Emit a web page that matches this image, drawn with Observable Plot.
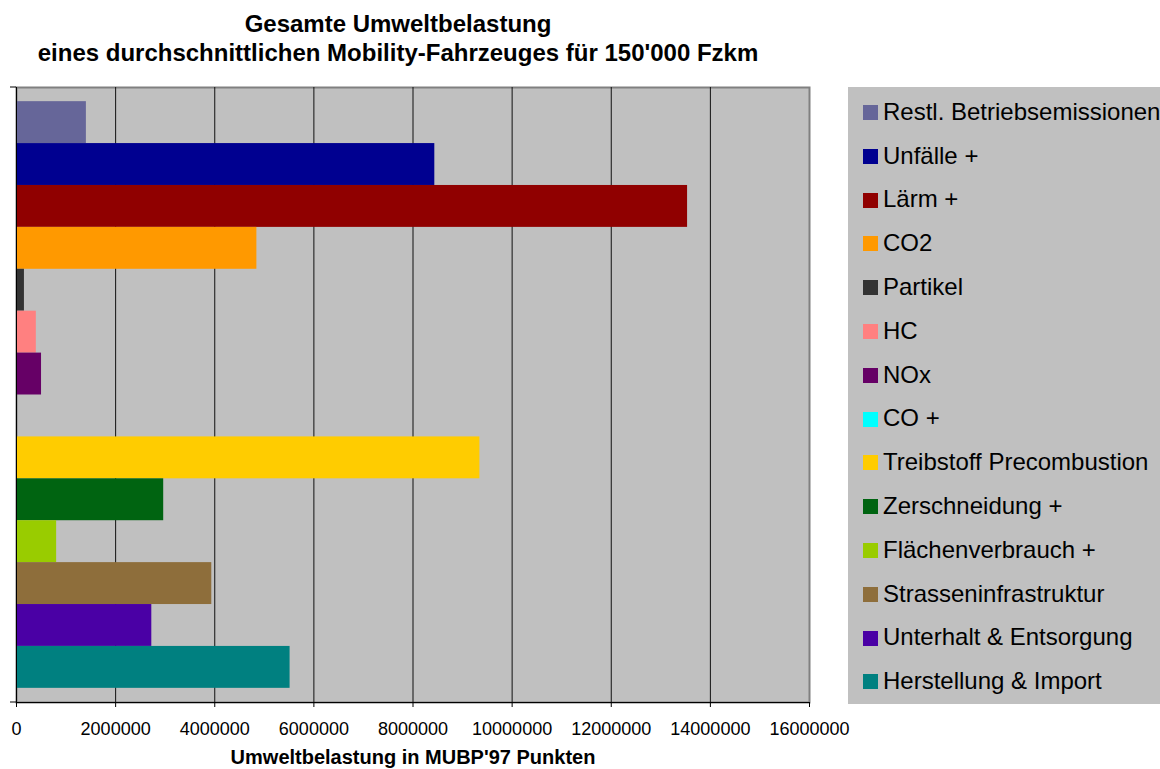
<!DOCTYPE html>
<html>
<head>
<meta charset="utf-8">
<script src="https://cdn.jsdelivr.net/npm/d3@7"></script>
<script src="https://cdn.jsdelivr.net/npm/@observablehq/plot@0.6"></script>
<style>
  body { margin: 0; background: #fff; font-family: "Liberation Sans", Arial, sans-serif; }
  #wrap { position: relative; width: 1160px; height: 769px; overflow: hidden; }
  #chart { position: absolute; left: 0; top: 0; }
  #title { position: absolute; left: 0; top: 9px; width: 796px; text-align: center;
           font-weight: bold; font-size: 24px; line-height: 29px; color: #000; }
  #legend { position: absolute; left: 848px; top: 87px; width: 312px; height: 617px; background: #c0c0c0; }
  .item { position: absolute; left: 15px; height: 24px; font-size: 24px; line-height: 24px; white-space: nowrap; color: #000; }
  .sw { position: absolute; left: 0; width: 15px; height: 15px; }
  .lb { position: absolute; left: 20px; top: 0; }
</style>
</head>
<body>
<div id="wrap">
  <div id="chart"></div>
  <div id="title"></div>
  <div id="legend"></div>
</div>
<script>
const titleLines = ["Gesamte Umweltbelastung", "eines durchschnittlichen Mobility-Fahrzeuges für 150'000 Fzkm"];
const xLabel = "Umweltbelastung in MUBP'97 Punkten";

const categories = [
  "Restl. Betriebsemissionen",
  "Unfälle +",
  "Lärm +",
  "CO2",
  "Partikel",
  "HC",
  "NOx",
  "CO +",
  "Treibstoff Precombustion",
  "Zerschneidung +",
  "Flächenverbrauch +",
  "Strasseninfrastruktur",
  "Unterhalt & Entsorgung",
  "Herstellung & Import"
];
const values = [
  1410000,
  8440000,
  13540000,
  4850000,
  160000,
  400000,
  505000,
  10000,
  9350000,
  2970000,
  810000,
  3940000,
  2730000,
  5520000
];
const colors = [
  "#666699",
  "#000090",
  "#900000",
  "#FF9900",
  "#333333",
  "#FF8080",
  "#660066",
  "#00FFFF",
  "#FFCC00",
  "#006411",
  "#99CC00",
  "#8E6E3B",
  "#4A00A5",
  "#008080"
];
const xTicks = [0, 2000000, 4000000, 6000000, 8000000, 10000000, 12000000, 14000000, 16000000];

const data = categories.map((c, i) => ({category: c, value: values[i]}));

// Title
document.getElementById("title").innerHTML = titleLines.join("<br>");

// Chart
const sideTicks = (index, scales, vals, dim) => {
  const g = document.createElementNS("http://www.w3.org/2000/svg", "g");
  const x0 = dim.marginLeft;
  for (const y of [dim.marginTop, dim.height - dim.marginBottom]) {
    const l = document.createElementNS("http://www.w3.org/2000/svg", "line");
    l.setAttribute("x1", x0 - 6); l.setAttribute("x2", x0);
    l.setAttribute("y1", y); l.setAttribute("y2", y);
    l.setAttribute("stroke", "black");
    g.appendChild(l);
  }
  return g;
};

const chart = Plot.plot({
  width: 1160,
  height: 769,
  marginTop: 87,
  marginBottom: 67,
  marginLeft: 16,
  marginRight: 351,
  style: {fontFamily: "'Liberation Sans', Arial, sans-serif", background: "transparent", color: "#000"},
  x: {domain: [0, 16000000]},
  y: {domain: categories, paddingInner: 0, paddingOuter: 0.338, round: false, axis: null},
  color: {domain: categories, range: colors},
  marks: [
    Plot.frame({fill: "#c0c0c0", stroke: "#808080", strokeWidth: 2}),
    Plot.ruleX(xTicks.slice(1, -1), {stroke: "#111", strokeWidth: 1}),
    Plot.barX(data, {x: "value", y: "category", fill: "category", inset: 0}),
    Plot.frame({anchor: "left", stroke: "black", strokeWidth: 1}),
    Plot.frame({anchor: "bottom", stroke: "black", strokeWidth: 1}),
    sideTicks,
    Plot.axisX(xTicks, {tickSize: 5, tickPadding: 15, fontSize: 18, tickFormat: d => String(d), label: null, stroke: "black"}),
    Plot.text([xLabel], {frameAnchor: "bottom", dy: 61, fontSize: 20, fontWeight: "bold", fill: "black"})
  ]
});
document.getElementById("chart").appendChild(chart);

// Legend
const legend = document.getElementById("legend");
categories.forEach((c, i) => {
  const baseline = 33 + i * 43.8;
  const item = document.createElement("div");
  item.className = "item";
  item.style.top = (baseline - 20.3) + "px";
  const sw = document.createElement("div");
  sw.className = "sw";
  sw.style.background = colors[i];
  sw.style.top = (20.3 - 15) + "px";
  const lb = document.createElement("div");
  lb.className = "lb";
  lb.textContent = c;
  item.appendChild(sw);
  item.appendChild(lb);
  legend.appendChild(item);
});
</script>
</body>
</html>
